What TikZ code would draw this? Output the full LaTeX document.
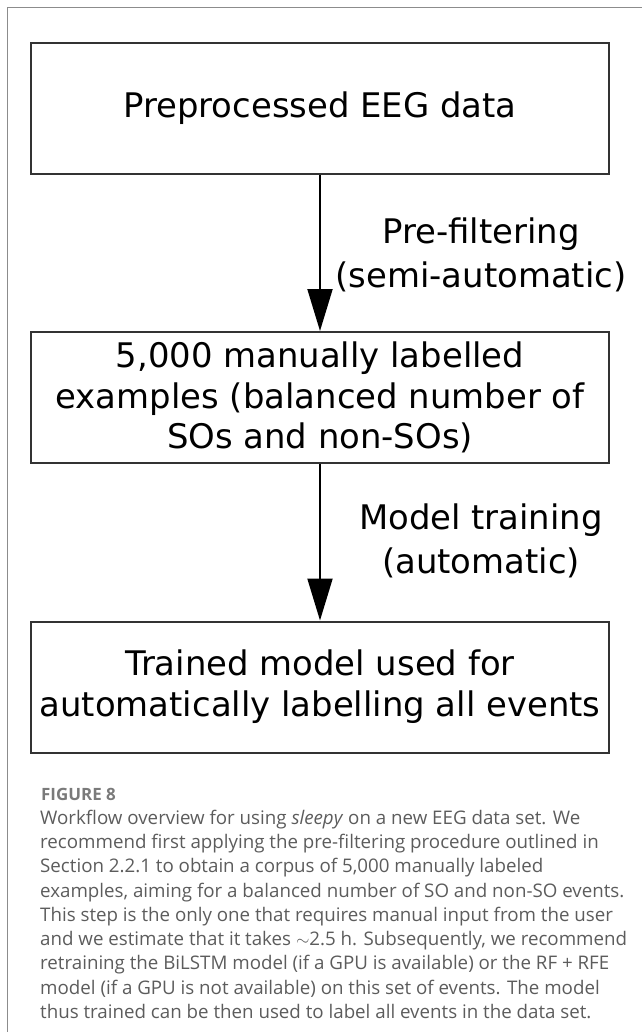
\documentclass[tikz,border=0pt]{standalone}
\usepackage{fontspec}
\setmainfont{DejaVu Sans}
\newfontfamily\capfont{Open Sans}
\definecolor{wfframe}{HTML}{8C8C8C}
\definecolor{wfline}{HTML}{333333}
\definecolor{wfcap}{HTML}{5C5C5C}
\definecolor{wfhead}{HTML}{7A7A7A}
\usetikzlibrary{arrows.meta,positioning}

\begin{document}
\begin{tikzpicture}[x=1bp,y=-1bp,
  box/.style={draw=wfline,line width=2bp,minimum width=578bp,minimum height=131bp,
    inner sep=0pt,align=center,font=\fontsize{34}{41}\selectfont},
  flow/.style={-{Triangle[length=42bp,width=25bp]},line width=2bp,black},
  lbl/.style={align=center,inner sep=0pt,font=\fontsize{34}{44}\selectfont},
  caphead/.style={inner sep=0pt,anchor=west,text=wfhead,font=\capfont\bfseries\fontsize{17}{19}\selectfont},
  captext/.style={inner sep=0pt,anchor=north west,align=left,text=wfcap,
    font=\capfont\fontsize{18.8}{24.3}\selectfont}]
  \useasboundingbox (0,0) rectangle (642,1032);
  \draw[wfframe,line width=1.5bp] (642,7.5) -- (7.5,7.5) -- (7.5,1032);
  \node[box] (eeg) at (320,108.5) {Preprocessed EEG data};
  \node[box] (lab) at (320,397.5) {5,000 manually labelled\\examples (balanced number of\\SOs and non-SOs)};
  \node[box] (mdl) at (320,687) {Trained model used for\\automatically labelling all events};
  \draw[flow] (eeg.south) -- (lab.north);
  \draw[flow] (lab.south) -- (mdl.north);
  \node[lbl] (pre) at (481,255) {Pre-filtering\\(semi-automatic)};
  \node[lbl] (trn) at (481,541) {Model training\\(automatic)};
  \node[caphead] (fig) at (41,794) {FIGURE 8};
  \node[captext] (cap) at (40,810)
    {Workflow overview for using \emph{sleepy} on a new EEG data set. We\\
     recommend first applying the pre-filtering procedure outlined in\\
     Section 2.2.1 to obtain a corpus of 5,000 manually labeled\\
     examples, aiming for a balanced number of SO and non-SO events.\\
     This step is the only one that requires manual input from the user\\
     and we estimate that it takes $\sim$2.5 h. Subsequently, we recommend\\
     retraining the BiLSTM model (if a GPU is available) or the RF + RFE\\
     model (if a GPU is not available) on this set of events. The model\\
     thus trained can be then used to label all events in the data set.};
\end{tikzpicture}
\end{document}
